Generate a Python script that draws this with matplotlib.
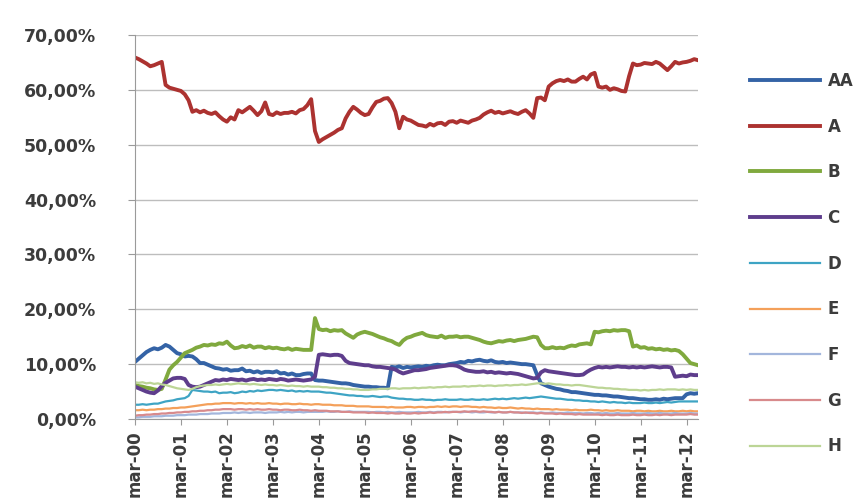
import numpy as np
import pandas as pd
import matplotlib
matplotlib.use("Agg")
import matplotlib.pyplot as plt
from matplotlib.ticker import FuncFormatter, FixedLocator

# monthly shares (%), March 2000 to June 2012
months = pd.date_range("2000-03-01", periods=148, freq="MS")
month_names = ["jan", "feb", "mar", "apr", "maj", "jun", "jul", "aug", "sep", "okt", "nov", "dec"]

aa = [10.4, 11.0, 11.6, 12.2, 12.6, 12.9, 12.7, 13.0, 13.5, 13.2, 12.6, 12.0,
      11.8, 11.4, 11.5, 11.4, 10.9, 10.2, 10.2, 9.9, 9.6, 9.3, 9.2, 9.0,
      9.1, 8.8, 8.9, 8.9, 9.2, 8.7, 8.8, 8.5, 8.7, 8.4, 8.6, 8.6,
      8.5, 8.7, 8.3, 8.4, 8.1, 8.3, 8.0, 8.0, 8.2, 8.3, 8.3, 7.1,
      7.0, 7.0, 6.9, 6.8, 6.7, 6.6, 6.5, 6.5, 6.4, 6.2, 6.1, 6.0,
      5.9, 5.9, 5.8, 5.8, 5.7, 5.7, 5.6, 9.5, 9.4, 9.6, 9.3, 9.5,
      9.4, 9.5, 9.6, 9.5, 9.7, 9.6, 9.8, 9.9, 9.8, 9.8, 10.0, 10.1,
      10.2, 10.4, 10.3, 10.6, 10.5, 10.7, 10.8, 10.6, 10.5, 10.7, 10.4, 10.3,
      10.4, 10.2, 10.3, 10.2, 10.1, 10.0, 10.0, 9.9, 9.8, 8.0, 6.5, 6.2,
      5.9, 5.7, 5.5, 5.4, 5.2, 5.1, 4.9, 4.9, 4.8, 4.7, 4.6, 4.5,
      4.4, 4.4, 4.3, 4.3, 4.2, 4.1, 4.1, 4.0, 3.9, 3.8, 3.8, 3.7,
      3.6, 3.6, 3.5, 3.5, 3.6, 3.5, 3.7, 3.6, 3.7, 3.8, 3.8, 3.8,
      4.5, 4.7, 4.6, 4.7]

a = [65.9, 65.6, 65.2, 64.8, 64.3, 64.5, 64.8, 65.1, 60.9, 60.4, 60.2, 60.0,
     59.8, 59.2, 58.1, 56.0, 56.3, 55.9, 56.2, 55.8, 55.6, 55.9, 55.2, 54.6,
     54.2, 55.0, 54.6, 56.3, 55.9, 56.4, 56.9, 56.2, 55.4, 56.1, 57.7, 55.6,
     55.4, 55.9, 55.6, 55.8, 55.8, 56.0, 55.7, 56.3, 56.5, 57.2, 58.3, 52.5,
     50.5, 51.0, 51.4, 51.8, 52.2, 52.7, 53.0, 54.8, 56.0, 56.9, 56.4, 55.8,
     55.4, 55.6, 56.8, 57.8, 58.0, 58.4, 58.5, 57.6, 56.0, 53.0, 55.1, 54.6,
     54.4, 54.0, 53.6, 53.5, 53.3, 53.8, 53.5, 53.9, 54.0, 53.6, 54.2, 54.3,
     54.0, 54.4, 54.2, 54.0, 54.4, 54.6, 54.9, 55.5, 55.9, 56.2, 55.8, 56.0,
     55.7, 55.9, 56.1, 55.8, 55.6, 56.0, 56.3, 55.7, 54.9, 58.5, 58.6, 58.1,
     60.6, 61.2, 61.6, 61.8, 61.6, 61.9, 61.5, 61.5, 62.0, 62.4, 61.9, 62.8,
     63.1, 60.6, 60.4, 60.6, 60.0, 60.3, 60.1, 59.8, 59.7, 62.5, 64.8, 64.5,
     64.6, 64.9, 64.8, 64.7, 65.1, 64.8, 64.2, 63.6, 64.3, 65.1, 64.8, 65.0,
     65.1, 65.3, 65.6, 65.4]

b = [6.2, 6.0, 5.9, 5.7, 5.6, 5.4, 5.3, 5.5, 7.2, 9.0, 9.8, 10.4,
     11.2, 12.0, 12.3, 12.6, 13.0, 13.2, 13.5, 13.4, 13.6, 13.5, 13.8, 13.7,
     14.1, 13.4, 12.9, 13.0, 13.3, 13.1, 13.4, 13.0, 13.2, 13.2, 12.9, 13.1,
     12.9, 13.0, 12.8, 12.7, 12.9, 12.6, 12.8, 12.7, 12.6, 12.6, 12.6, 18.4,
     16.4, 16.2, 16.3, 16.0, 16.2, 16.1, 16.2, 15.6, 15.2, 14.8, 15.4, 15.7,
     15.9, 15.7, 15.5, 15.2, 14.9, 14.7, 14.4, 14.2, 13.8, 13.5, 14.3, 14.8,
     15.0, 15.3, 15.5, 15.7, 15.3, 15.1, 15.0, 14.9, 15.2, 14.8, 15.0, 15.0,
     15.1, 14.9, 15.0, 15.0, 14.8, 14.6, 14.4, 14.1, 13.9, 13.8, 14.0, 14.2,
     14.1, 14.3, 14.4, 14.2, 14.4, 14.5, 14.6, 14.8, 15.0, 14.9, 13.5, 12.9,
     12.9, 13.1, 12.9, 13.0, 12.9, 13.2, 13.4, 13.3, 13.6, 13.7, 13.8, 13.6,
     15.9, 15.8, 16.0, 16.1, 16.0, 16.2, 16.1, 16.2, 16.2, 16.0, 13.2, 13.4,
     13.0, 13.1, 12.8, 12.9, 12.7, 12.8, 12.6, 12.7, 12.5, 12.6, 12.4, 11.8,
     11.0, 10.2, 10.0, 9.8]

c = [5.9, 5.6, 5.3, 5.0, 4.8, 4.7, 5.2, 6.0, 6.6, 7.0, 7.4, 7.5,
     7.5, 7.3, 6.2, 5.9, 5.8, 5.9, 6.2, 6.5, 6.8, 7.1, 7.0, 7.2,
     7.1, 7.3, 7.2, 7.1, 7.2, 7.0, 7.2, 7.3, 7.1, 7.2, 7.1, 7.3,
     7.2, 7.1, 7.3, 7.2, 7.0, 7.1, 7.2, 7.1, 7.0, 7.1, 7.2, 7.7,
     11.7, 11.8, 11.7, 11.6, 11.7, 11.7, 11.5, 10.6, 10.2, 10.1, 10.0, 9.9,
     9.8, 9.8, 9.6, 9.5, 9.5, 9.4, 9.3, 9.2, 9.0, 8.6, 8.3, 8.5,
     8.7, 8.9, 8.9, 9.0, 9.1, 9.3, 9.4, 9.5, 9.6, 9.7, 9.8, 9.8,
     9.7, 9.4, 9.0, 8.8, 8.7, 8.6, 8.6, 8.7, 8.5, 8.6, 8.4, 8.5,
     8.4, 8.3, 8.4, 8.3, 8.2, 8.0, 7.8, 7.6, 7.4, 7.5, 8.5, 8.9,
     8.7, 8.6, 8.5, 8.4, 8.3, 8.2, 8.1, 8.0, 8.0, 8.1, 8.6, 9.0,
     9.3, 9.5, 9.4, 9.5, 9.4, 9.5, 9.6, 9.5, 9.5, 9.4, 9.5, 9.4,
     9.5, 9.4, 9.5, 9.6, 9.5, 9.4, 9.5, 9.5, 9.4, 7.7, 7.8, 7.9,
     7.8, 8.1, 8.0, 8.0]

d = [2.6, 2.6, 2.7, 2.6, 2.7, 2.8, 2.8, 3.0, 3.2, 3.3, 3.4, 3.6,
     3.7, 3.8, 4.2, 5.3, 5.2, 5.1, 5.0, 5.0, 4.9, 5.0, 4.7, 4.8,
     4.8, 4.9, 4.7, 4.8, 5.0, 4.9, 5.1, 5.0, 5.2, 5.1, 5.2, 5.3,
     5.3, 5.2, 5.3, 5.2, 5.1, 5.2, 5.0, 5.1, 5.0, 5.1, 5.0, 5.0,
     5.0, 4.9, 4.8, 4.8, 4.7, 4.6, 4.5, 4.4, 4.3, 4.3, 4.2, 4.2,
     4.1, 4.1, 4.2, 4.1, 4.0, 4.1, 4.1, 3.9, 3.8, 3.7, 3.7, 3.6,
     3.6, 3.5, 3.5, 3.6, 3.5, 3.5, 3.4, 3.5, 3.5, 3.6, 3.5, 3.5,
     3.5, 3.6, 3.5, 3.5, 3.6, 3.5, 3.5, 3.6, 3.5, 3.6, 3.7, 3.6,
     3.7, 3.6, 3.7, 3.8, 3.7, 3.8, 3.9, 3.8, 3.9, 4.0, 4.1, 4.0,
     3.9, 3.8, 3.7, 3.7, 3.6, 3.5, 3.5, 3.4, 3.4, 3.3, 3.3, 3.2,
     3.2, 3.1, 3.2, 3.1, 3.0, 3.1, 3.0, 3.0, 2.9, 3.0, 2.9, 2.9,
     2.9, 3.0, 2.9, 2.9, 3.0, 2.9, 3.0, 3.1, 3.0, 3.1, 3.2, 3.2,
     3.2, 3.2, 3.2, 3.2]

e = [1.6, 1.6, 1.7, 1.6, 1.7, 1.7, 1.8, 1.8, 1.9, 1.9, 2.0, 2.0,
     2.1, 2.1, 2.2, 2.3, 2.4, 2.5, 2.6, 2.7, 2.7, 2.8, 2.8, 2.9,
     2.9, 2.9, 2.8, 2.9, 2.9, 2.8, 2.9, 2.8, 2.9, 2.8, 2.8, 2.9,
     2.8, 2.8, 2.7, 2.8, 2.8, 2.7, 2.7, 2.8, 2.7, 2.7, 2.6, 2.7,
     2.7, 2.6, 2.6, 2.6, 2.5, 2.5, 2.5, 2.4, 2.4, 2.4, 2.3, 2.3,
     2.3, 2.3, 2.2, 2.2, 2.2, 2.2, 2.1, 2.2, 2.1, 2.1, 2.1, 2.2,
     2.2, 2.1, 2.2, 2.2, 2.1, 2.2, 2.2, 2.3, 2.2, 2.3, 2.2, 2.3,
     2.3, 2.2, 2.3, 2.3, 2.2, 2.2, 2.1, 2.2, 2.1, 2.1, 2.0, 2.1,
     2.0, 2.0, 2.1, 2.0, 1.9, 2.0, 1.9, 1.9, 1.8, 1.9, 1.8, 1.8,
     1.8, 1.7, 1.8, 1.7, 1.7, 1.7, 1.6, 1.7, 1.6, 1.6, 1.6, 1.7,
     1.6, 1.6, 1.5, 1.6, 1.5, 1.5, 1.6, 1.5, 1.5, 1.5, 1.4, 1.5,
     1.5, 1.4, 1.5, 1.4, 1.4, 1.5, 1.4, 1.4, 1.5, 1.4, 1.4, 1.5,
     1.4, 1.5, 1.4, 1.4]

f = [0.3, 0.3, 0.4, 0.4, 0.4, 0.5, 0.5, 0.5, 0.6, 0.6, 0.6, 0.7,
     0.7, 0.7, 0.8, 0.8, 0.8, 0.9, 0.9, 0.9, 1.0, 1.0, 1.0, 1.1,
     1.1, 1.1, 1.2, 1.1, 1.2, 1.2, 1.1, 1.2, 1.2, 1.2, 1.1, 1.2,
     1.2, 1.2, 1.3, 1.2, 1.3, 1.2, 1.3, 1.3, 1.2, 1.3, 1.3, 1.3,
     1.3, 1.3, 1.4, 1.3, 1.3, 1.4, 1.3, 1.3, 1.4, 1.3, 1.3, 1.3,
     1.3, 1.3, 1.2, 1.3, 1.3, 1.2, 1.3, 1.2, 1.2, 1.3, 1.2, 1.2,
     1.2, 1.2, 1.3, 1.2, 1.2, 1.3, 1.2, 1.3, 1.3, 1.2, 1.3, 1.3,
     1.3, 1.2, 1.3, 1.3, 1.2, 1.3, 1.2, 1.2, 1.3, 1.2, 1.2, 1.3,
     1.2, 1.2, 1.3, 1.2, 1.2, 1.2, 1.1, 1.2, 1.2, 1.1, 1.2, 1.1,
     1.1, 1.2, 1.1, 1.1, 1.1, 1.2, 1.1, 1.1, 1.1, 1.0, 1.1, 1.1,
     1.0, 1.1, 1.0, 1.1, 1.0, 1.0, 1.1, 1.0, 1.0, 1.0, 1.1, 1.0,
     1.0, 1.0, 1.1, 1.0, 1.0, 1.1, 1.0, 1.0, 1.0, 1.1, 1.0, 1.0,
     1.0, 1.1, 1.0, 1.0]

g = [0.6, 0.7, 0.7, 0.8, 0.8, 0.9, 0.9, 1.0, 1.0, 1.1, 1.1, 1.2,
     1.2, 1.3, 1.3, 1.4, 1.4, 1.5, 1.5, 1.6, 1.6, 1.7, 1.7, 1.8,
     1.8, 1.8, 1.7, 1.8, 1.8, 1.7, 1.8, 1.7, 1.8, 1.7, 1.7, 1.8,
     1.7, 1.7, 1.6, 1.7, 1.7, 1.6, 1.6, 1.7, 1.6, 1.6, 1.5, 1.6,
     1.5, 1.5, 1.5, 1.4, 1.4, 1.4, 1.3, 1.3, 1.3, 1.2, 1.2, 1.2,
     1.2, 1.1, 1.2, 1.1, 1.1, 1.1, 1.0, 1.1, 1.0, 1.0, 1.1, 1.0,
     1.0, 1.1, 1.0, 1.1, 1.1, 1.2, 1.1, 1.2, 1.2, 1.3, 1.2, 1.3,
     1.3, 1.3, 1.4, 1.3, 1.4, 1.4, 1.3, 1.4, 1.3, 1.3, 1.2, 1.3,
     1.2, 1.2, 1.3, 1.2, 1.2, 1.1, 1.2, 1.1, 1.1, 1.0, 1.1, 1.0,
     1.0, 1.0, 0.9, 1.0, 0.9, 0.9, 0.9, 0.8, 0.9, 0.8, 0.8, 0.8,
     0.8, 0.8, 0.7, 0.8, 0.7, 0.7, 0.8, 0.7, 0.7, 0.7, 0.8, 0.7,
     0.7, 0.8, 0.7, 0.7, 0.8, 0.7, 0.8, 0.8, 0.7, 0.8, 0.8, 0.8,
     0.8, 0.9, 0.8, 0.8]

h = [6.7, 6.6, 6.7, 6.5, 6.6, 6.4, 6.5, 6.3, 6.2, 6.0, 5.8, 5.6,
     5.5, 5.4, 5.3, 5.5, 5.8, 6.0, 6.1, 6.2, 6.2, 6.3, 6.2, 6.3,
     6.4, 6.3, 6.4, 6.5, 6.4, 6.4, 6.3, 6.4, 6.3, 6.2, 6.3, 6.2,
     6.2, 6.1, 6.2, 6.1, 6.0, 6.1, 6.0, 6.0, 5.9, 6.0, 5.9, 5.9,
     5.9, 5.8, 5.8, 5.7, 5.7, 5.6, 5.6, 5.5, 5.5, 5.4, 5.4, 5.3,
     5.3, 5.3, 5.4, 5.4, 5.5, 5.5, 5.5, 5.6, 5.6, 5.5, 5.6, 5.6,
     5.6, 5.7, 5.6, 5.7, 5.7, 5.8, 5.7, 5.8, 5.8, 5.9, 5.8, 5.9,
     5.9, 5.9, 6.0, 5.9, 6.0, 6.0, 6.1, 6.0, 6.1, 6.1, 6.0, 6.1,
     6.1, 6.2, 6.1, 6.2, 6.2, 6.3, 6.2, 6.3, 6.4, 6.5, 6.5, 6.4,
     6.5, 6.4, 6.3, 6.3, 6.2, 6.2, 6.1, 6.2, 6.2, 6.1, 6.0, 5.9,
     5.8, 5.7, 5.7, 5.6, 5.6, 5.5, 5.5, 5.4, 5.4, 5.3, 5.3, 5.3,
     5.2, 5.3, 5.2, 5.3, 5.3, 5.4, 5.3, 5.4, 5.4, 5.4, 5.3, 5.4,
     5.3, 5.4, 5.3, 5.3]

series_names = ["AA", "A", "B", "C", "D", "E", "F", "G", "H"]
series_values = [aa, a, b, c, d, e, f, g, h]
colors = ["#3463a6", "#ac3230", "#80a93e", "#5e3d8c", "#3ea4c4",
          "#f4a05a", "#a3b6dc", "#d88a8c", "#bcd596"]
widths = [2.8, 2.8, 2.8, 2.8, 1.6, 1.6, 1.6, 1.6, 1.6]

tick_idx = list(range(0, len(months), 12))
tick_labels = [f"{month_names[months[i].month - 1]}-{months[i].year % 100:02d}" for i in tick_idx]

plt.rcParams["font.family"] = ["DejaVu Sans"]
text_col = "#3c3c3c"

fig = plt.figure(figsize=(8.65, 5.0), dpi=100)
ax = fig.add_axes([0.156, 0.162, 0.651, 0.768])

x = np.arange(len(months))
for name, vals, col, lw in zip(series_names, series_values, colors, widths):
    ax.plot(x, vals, color=col, linewidth=lw, label=name, solid_joinstyle="round")

ax.set_xlim(0, len(months) - 1)
ax.set_ylim(0, 70)
ax.yaxis.set_major_locator(FixedLocator(np.arange(0, 71, 10)))
ax.yaxis.set_major_formatter(FuncFormatter(lambda v, p: f"{v:.2f}%".replace(".", ",")))
ax.set_xticks(tick_idx)
ax.set_xticklabels(tick_labels, rotation=90)

ax.grid(axis="y", color="#bdbdbd", linewidth=1.0)
ax.set_axisbelow(True)
for side in ["top", "right"]:
    ax.spines[side].set_visible(False)
for side in ["left", "bottom"]:
    ax.spines[side].set_color("#9a9a9a")
ax.tick_params(axis="y", length=5, color="#9a9a9a", labelsize=12.5, labelcolor=text_col, pad=23)
ax.tick_params(axis="x", length=4, color="#9a9a9a", labelsize=12, labelcolor=text_col, pad=4)
for lbl in ax.get_xticklabels() + ax.get_yticklabels():
    lbl.set_fontweight("bold")

leg = fig.legend(loc="upper left", bbox_to_anchor=(0.867, 0.856), frameon=False,
                 fontsize=12, handlelength=4.2, handletextpad=0.45, labelspacing=1.66,
                 borderpad=0, borderaxespad=0)
for txt in leg.get_texts():
    txt.set_color(text_col)
    txt.set_fontweight("bold")

fig.savefig("out.png", dpi=100)
